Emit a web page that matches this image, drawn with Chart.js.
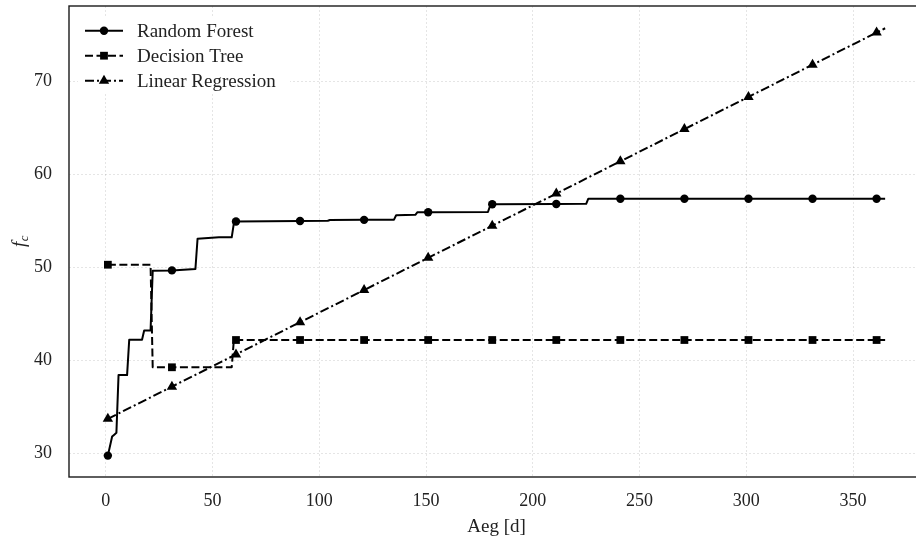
<!DOCTYPE html>
<html>
<head>
<meta charset="utf-8">
<script src="https://cdn.jsdelivr.net/npm/chart.js@4.4.1/dist/chart.umd.min.js"></script>
<style>
html, body { margin: 0; padding: 0; overflow: hidden; background: #fff; }
#wrap { width: 930px; height: 538px; }
</style>
</head>
<body>
<div id="wrap"><canvas id="fcChart" width="930" height="538"></canvas></div>
<script>
// f_c against age in days, three models
const rfDays   = [1, 3, 4, 5, 6, 10, 11, 17, 18, 21, 22, 31, 42, 43, 53, 59, 60, 61, 91, 104, 105, 121, 135, 136, 145, 146, 151, 179, 180, 181, 211, 225, 226, 241, 271, 301, 331, 361, 365];
const rfValues = [29.75, 31.8, 32.0, 32.2, 38.4, 38.4, 42.2, 42.2, 43.2, 43.2, 49.6, 49.65, 49.8, 53.05, 53.2, 53.2, 54.7, 54.9, 54.96, 54.98, 55.07, 55.08, 55.1, 55.57, 55.62, 55.9, 55.9, 55.92, 56.6, 56.75, 56.78, 56.8, 57.35, 57.35, 57.35, 57.35, 57.35, 57.35, 57.35];

const dtDays   = [1, 21, 22, 31, 59, 60, 61, 91, 121, 151, 181, 211, 241, 271, 301, 331, 361, 365];
const dtValues = [50.26, 50.26, 39.24, 39.24, 39.24, 42.17, 42.17, 42.17, 42.17, 42.17, 42.17, 42.17, 42.17, 42.17, 42.17, 42.17, 42.17, 42.17];

const lrDays   = [1, 31, 61, 91, 121, 151, 181, 211, 241, 271, 301, 331, 361, 365];
const lrValues = [33.7, 37.16, 40.62, 44.08, 47.54, 51.0, 54.45, 57.9, 61.37, 64.83, 68.29, 71.75, 75.2, 75.67];

// every 30th day gets a marker
const markerDays = [1, 31, 61, 91, 121, 151, 181, 211, 241, 271, 301, 331, 361];

const xTickValues = [0, 50, 100, 150, 200, 250, 300, 350];
const yTickValues = [30, 40, 50, 60, 70];

const SERIF = '"Liberation Serif", "DejaVu Serif", serif';
const INK = '#222';

function toPoints(days, values) {
    return days.map((d, i) => ({x: d, y: values[i]}));
}

function markerRadius(r) {
    return ctx => (ctx.raw && markerDays.includes(ctx.raw.x)) ? r : 0;
}

function drawMarker(ctx, style, x, y, r) {
    ctx.beginPath();
    if (style === 'circle') {
        ctx.arc(x, y, r, 0, Math.PI * 2);
    } else if (style === 'rect') {
        const s = r * Math.SQRT1_2;
        ctx.rect(x - s, y - s, 2 * s, 2 * s);
    } else if (style === 'triangle') {
        ctx.moveTo(x, y - r);
        ctx.lineTo(x + r * Math.sin(Math.PI * 2 / 3), y - r * Math.cos(Math.PI * 2 / 3));
        ctx.lineTo(x + r * Math.sin(Math.PI * 4 / 3), y - r * Math.cos(Math.PI * 4 / 3));
        ctx.closePath();
    }
    ctx.fill();
}

// box around the plotting area
const framePlugin = {
    id: 'frame',
    afterDatasetsDraw(chart) {
        const {ctx, chartArea: a} = chart;
        ctx.save();
        ctx.strokeStyle = '#1a1a1a';
        ctx.lineWidth = 1.4;
        ctx.strokeRect(a.left, a.top, a.right - a.left, a.bottom - a.top);
        ctx.restore();
    }
};

// legend with line sample + marker, inside the top-left corner
const lineLegend = {
    id: 'lineLegend',
    afterDraw(chart) {
        const {ctx, chartArea: a} = chart;
        const x0 = a.left + 16, len = 38, rowH = 25, y0 = a.top + 24.7;
        ctx.save();
        ctx.fillStyle = '#fff';
        ctx.fillRect(a.left + 9, a.top + 11, 212, 77);
        chart.data.datasets.forEach((ds, i) => {
            const y = y0 + i * rowH;
            ctx.strokeStyle = '#000';
            ctx.lineWidth = ds.borderWidth;
            ctx.setLineDash(ds.borderDash || []);
            ctx.beginPath();
            ctx.moveTo(x0, y);
            ctx.lineTo(x0 + len, y);
            ctx.stroke();
            ctx.setLineDash([]);
            ctx.fillStyle = '#000';
            drawMarker(ctx, ds.pointStyle, x0 + len / 2, y, ds.legendRadius);
            ctx.fillStyle = INK;
            ctx.font = '19px ' + SERIF;
            ctx.textBaseline = 'middle';
            ctx.textAlign = 'left';
            ctx.fillText(ds.label, x0 + len + 14, y + 1);
        });
        ctx.restore();
    }
};

// rotated y title: italic f with subscript c
const yLabelPlugin = {
    id: 'yLabel',
    afterDraw(chart) {
        const {ctx, chartArea: a} = chart;
        const cy = (a.top + a.bottom) / 2;
        ctx.save();
        ctx.translate(22, cy);
        ctx.rotate(-Math.PI / 2);
        ctx.fillStyle = INK;
        ctx.textBaseline = 'alphabetic';
        ctx.textAlign = 'left';
        ctx.font = 'italic 19px ' + SERIF;
        const fw = ctx.measureText('f').width;
        ctx.font = 'italic 13px ' + SERIF;
        const cw = ctx.measureText('c').width;
        const start = -(fw + cw) / 2;
        ctx.font = 'italic 19px ' + SERIF;
        ctx.fillText('f', start, 2.5);
        ctx.font = 'italic 13px ' + SERIF;
        ctx.fillText('c', start + fw + 0.5, 6);
        ctx.restore();
    }
};

const lineBase = {
    borderColor: '#000',
    backgroundColor: '#000',
    pointBackgroundColor: '#000',
    pointBorderWidth: 0,
    pointHoverRadius: 0,
    borderWidth: 2,
    tension: 0,
    fill: false,
    borderJoinStyle: 'round'
};

const fcChart = new Chart(document.getElementById('fcChart'), {
    type: 'line',
    data: {
        datasets: [
            Object.assign({}, lineBase, {
                label: 'Random Forest',
                data: toPoints(rfDays, rfValues),
                pointStyle: 'circle',
                pointRadius: markerRadius(4.2),
                legendRadius: 4.2,
                order: 3
            }),
            Object.assign({}, lineBase, {
                label: 'Decision Tree',
                data: toPoints(dtDays, dtValues),
                borderDash: [8, 3.5],
                pointStyle: 'rect',
                pointRadius: markerRadius(5.5),
                legendRadius: 5.5,
                order: 2
            }),
            Object.assign({}, lineBase, {
                label: 'Linear Regression',
                data: toPoints(lrDays, lrValues),
                borderDash: [9, 3, 2, 3],
                pointStyle: 'triangle',
                pointRadius: markerRadius(6),
                legendRadius: 6,
                order: 1
            })
        ]
    },
    options: {
        responsive: false,
        animation: false,
        events: [],
        layout: {padding: {top: 6, right: 6, left: 0, bottom: 0}},
        plugins: {
            legend: {display: false},
            tooltip: {enabled: false}
        },
        scales: {
            x: {
                type: 'linear',
                min: -17.2,
                max: 383.2,
                afterFit(s) {
                    s.height = 61;
                    s.paddingLeft = 0;
                    s.paddingRight = 0;
                },
                afterBuildTicks(s) { s.ticks = xTickValues.map(v => ({value: v})); },
                grid: {color: 'rgba(0,0,0,0.1)', lineWidth: 1, drawTicks: false},
                border: {display: false, dash: [2, 2]},
                ticks: {padding: 13, maxRotation: 0, color: INK, font: {family: SERIF, size: 18}},
                title: {display: true, text: 'Aeg [d]', color: INK, padding: 0, font: {family: SERIF, size: 19}}
            },
            y: {
                type: 'linear',
                min: 27.45,
                max: 78.06,
                afterFit(s) {
                    s.width = 69;
                    s.paddingTop = 0;
                    s.paddingBottom = 0;
                },
                afterBuildTicks(s) { s.ticks = yTickValues.map(v => ({value: v})); },
                grid: {color: 'rgba(0,0,0,0.1)', lineWidth: 1, drawTicks: false},
                border: {display: false, dash: [2, 2]},
                ticks: {padding: 17, color: INK, font: {family: SERIF, size: 18}}
            }
        }
    },
    plugins: [framePlugin, lineLegend, yLabelPlugin]
});
</script>
</body>
</html>
